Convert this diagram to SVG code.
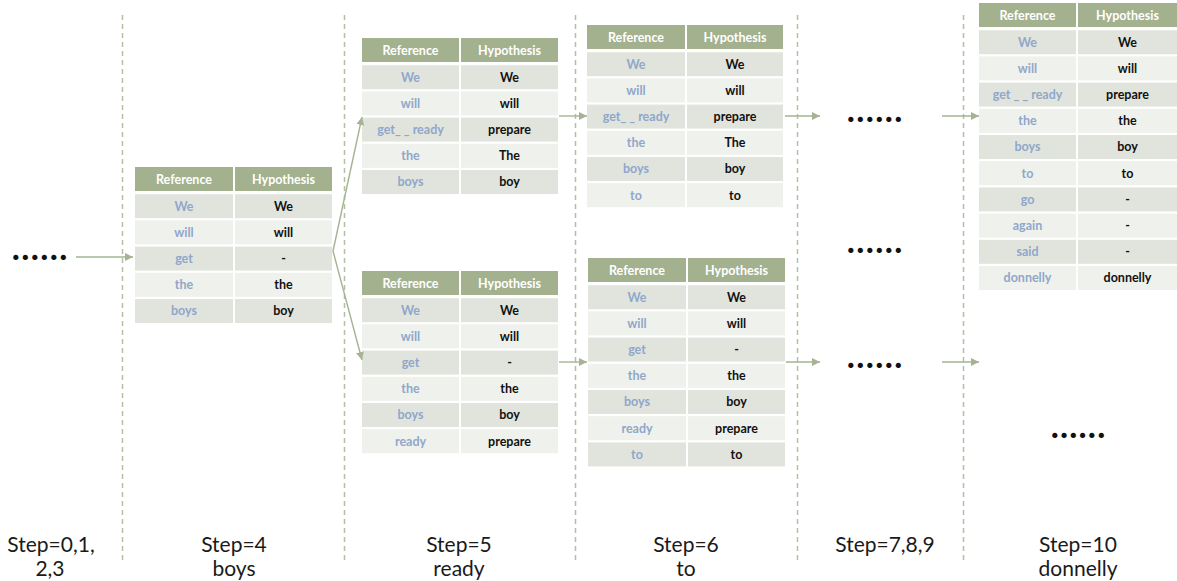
<svg xmlns="http://www.w3.org/2000/svg" width="1177" height="581" viewBox="0 0 1177 581">
<defs>
<marker id="ah" viewBox="0 0 8 8" markerWidth="8" markerHeight="8" markerUnits="userSpaceOnUse" refX="8" refY="4" orient="auto">
<path d="M0,0 L8,4 L0,8 z" fill="#a5b394"/>
</marker>
<style>
.hd{fill:#a3b18e}
.dk{fill:#e1e4dc}
.lt{fill:#eff1ec}
.ht{font-family:Lato,"Liberation Sans",sans-serif;font-weight:bold;font-size:12.5px;fill:#ffffff;text-anchor:middle}
.rt{font-family:Lato,"Liberation Sans",sans-serif;font-weight:bold;font-size:12.5px;fill:#8fa7cb;text-anchor:middle}
.yt{font-family:Lato,"Liberation Sans",sans-serif;font-weight:bold;font-size:12.5px;fill:#111111;text-anchor:middle}
.st{font-family:Lato,"Liberation Sans",sans-serif;font-size:21px;fill:#1a1a1a;text-anchor:middle}
.dots{font-family:Lato,"Liberation Sans",sans-serif;font-weight:900;font-size:32px;fill:#111111}
.sep{stroke:#b3c0a3;stroke-width:1.5;stroke-dasharray:5 4;fill:none}
.con{stroke:#a5b394;stroke-width:1.4;fill:none;marker-end:url(#ah)}
</style>
</defs>
<rect width="1177" height="581" fill="#ffffff"/>

<g id="separators">
<line class="sep" x1="122.5" y1="15" x2="122.5" y2="560"/>
<line class="sep" x1="344.5" y1="15" x2="344.5" y2="560"/>
<line class="sep" x1="575.5" y1="15" x2="575.5" y2="560"/>
<line class="sep" x1="797.5" y1="15" x2="797.5" y2="560"/>
<line class="sep" x1="963.5" y1="15" x2="963.5" y2="560"/>
</g>

<g id="t1" transform="translate(135,180)">
<rect class="hd" x="0" y="-13" width="98" height="24"/><rect class="hd" x="100" y="-13" width="97" height="24"/>
<text class="ht" x="49" y="3.5">Reference</text><text class="ht" x="148.5" y="3.5">Hypothesis</text>
<rect class="dk" x="0" y="14.2" width="98" height="24"/><rect class="dk" x="100" y="14.2" width="97" height="24"/>
<text class="rt" x="49" y="30.5">We</text><text class="yt" x="148.5" y="30.5">We</text>
<rect class="lt" x="0" y="40.4" width="98" height="24"/><rect class="lt" x="100" y="40.4" width="97" height="24"/>
<text class="rt" x="49" y="56.7">will</text><text class="yt" x="148.5" y="56.7">will</text>
<rect class="dk" x="0" y="66.6" width="98" height="24"/><rect class="dk" x="100" y="66.6" width="97" height="24"/>
<text class="rt" x="49" y="82.9">get</text><text class="yt" x="148.5" y="82.9">-</text>
<rect class="lt" x="0" y="92.8" width="98" height="24"/><rect class="lt" x="100" y="92.8" width="97" height="24"/>
<text class="rt" x="49" y="109.1">the</text><text class="yt" x="148.5" y="109.1">the</text>
<rect class="dk" x="0" y="119" width="98" height="24"/><rect class="dk" x="100" y="119" width="97" height="24"/>
<text class="rt" x="49" y="135.3">boys</text><text class="yt" x="148.5" y="135.3">boy</text>
</g>

<g id="t2" transform="translate(362,51)">
<rect class="hd" x="0" y="-13" width="97" height="24"/><rect class="hd" x="99" y="-13" width="97" height="24"/>
<text class="ht" x="48.5" y="3.5">Reference</text><text class="ht" x="147.5" y="3.5">Hypothesis</text>
<rect class="dk" x="0" y="14.2" width="97" height="24"/><rect class="dk" x="99" y="14.2" width="97" height="24"/>
<text class="rt" x="48.5" y="30.5">We</text><text class="yt" x="147.5" y="30.5">We</text>
<rect class="lt" x="0" y="40.4" width="97" height="24"/><rect class="lt" x="99" y="40.4" width="97" height="24"/>
<text class="rt" x="48.5" y="56.7">will</text><text class="yt" x="147.5" y="56.7">will</text>
<rect class="dk" x="0" y="66.6" width="97" height="24"/><rect class="dk" x="99" y="66.6" width="97" height="24"/>
<text class="rt" x="48.5" y="82.9">get_ _ ready</text><text class="yt" x="147.5" y="82.9">prepare</text>
<rect class="lt" x="0" y="92.8" width="97" height="24"/><rect class="lt" x="99" y="92.8" width="97" height="24"/>
<text class="rt" x="48.5" y="109.1">the</text><text class="yt" x="147.5" y="109.1">The</text>
<rect class="dk" x="0" y="119" width="97" height="24"/><rect class="dk" x="99" y="119" width="97" height="24"/>
<text class="rt" x="48.5" y="135.3">boys</text><text class="yt" x="147.5" y="135.3">boy</text>
</g>

<g id="t3" transform="translate(362,284)">
<rect class="hd" x="0" y="-13" width="97" height="24"/><rect class="hd" x="99" y="-13" width="97" height="24"/>
<text class="ht" x="48.5" y="3.5">Reference</text><text class="ht" x="147.5" y="3.5">Hypothesis</text>
<rect class="dk" x="0" y="14.2" width="97" height="24"/><rect class="dk" x="99" y="14.2" width="97" height="24"/>
<text class="rt" x="48.5" y="30.5">We</text><text class="yt" x="147.5" y="30.5">We</text>
<rect class="lt" x="0" y="40.4" width="97" height="24"/><rect class="lt" x="99" y="40.4" width="97" height="24"/>
<text class="rt" x="48.5" y="56.7">will</text><text class="yt" x="147.5" y="56.7">will</text>
<rect class="dk" x="0" y="66.6" width="97" height="24"/><rect class="dk" x="99" y="66.6" width="97" height="24"/>
<text class="rt" x="48.5" y="82.9">get</text><text class="yt" x="147.5" y="82.9">-</text>
<rect class="lt" x="0" y="92.8" width="97" height="24"/><rect class="lt" x="99" y="92.8" width="97" height="24"/>
<text class="rt" x="48.5" y="109.1">the</text><text class="yt" x="147.5" y="109.1">the</text>
<rect class="dk" x="0" y="119" width="97" height="24"/><rect class="dk" x="99" y="119" width="97" height="24"/>
<text class="rt" x="48.5" y="135.3">boys</text><text class="yt" x="147.5" y="135.3">boy</text>
<rect class="lt" x="0" y="145.2" width="97" height="24"/><rect class="lt" x="99" y="145.2" width="97" height="24"/>
<text class="rt" x="48.5" y="161.5">ready</text><text class="yt" x="147.5" y="161.5">prepare</text>
</g>

<g id="t4" transform="translate(587,38)">
<rect class="hd" x="0" y="-13" width="98" height="24"/><rect class="hd" x="100" y="-13" width="96" height="24"/>
<text class="ht" x="49" y="3.5">Reference</text><text class="ht" x="148" y="3.5">Hypothesis</text>
<rect class="dk" x="0" y="14.2" width="98" height="24"/><rect class="dk" x="100" y="14.2" width="96" height="24"/>
<text class="rt" x="49" y="30.5">We</text><text class="yt" x="148" y="30.5">We</text>
<rect class="lt" x="0" y="40.4" width="98" height="24"/><rect class="lt" x="100" y="40.4" width="96" height="24"/>
<text class="rt" x="49" y="56.7">will</text><text class="yt" x="148" y="56.7">will</text>
<rect class="dk" x="0" y="66.6" width="98" height="24"/><rect class="dk" x="100" y="66.6" width="96" height="24"/>
<text class="rt" x="49" y="82.9">get_ _ ready</text><text class="yt" x="148" y="82.9">prepare</text>
<rect class="lt" x="0" y="92.8" width="98" height="24"/><rect class="lt" x="100" y="92.8" width="96" height="24"/>
<text class="rt" x="49" y="109.1">the</text><text class="yt" x="148" y="109.1">The</text>
<rect class="dk" x="0" y="119" width="98" height="24"/><rect class="dk" x="100" y="119" width="96" height="24"/>
<text class="rt" x="49" y="135.3">boys</text><text class="yt" x="148" y="135.3">boy</text>
<rect class="lt" x="0" y="145.2" width="98" height="24"/><rect class="lt" x="100" y="145.2" width="96" height="24"/>
<text class="rt" x="49" y="161.5">to</text><text class="yt" x="148" y="161.5">to</text>
</g>

<g id="t5" transform="translate(588,271)">
<rect class="hd" x="0" y="-13" width="98" height="24"/><rect class="hd" x="100" y="-13" width="97" height="24"/>
<text class="ht" x="49" y="3.5">Reference</text><text class="ht" x="148.5" y="3.5">Hypothesis</text>
<rect class="dk" x="0" y="14.2" width="98" height="24"/><rect class="dk" x="100" y="14.2" width="97" height="24"/>
<text class="rt" x="49" y="30.5">We</text><text class="yt" x="148.5" y="30.5">We</text>
<rect class="lt" x="0" y="40.4" width="98" height="24"/><rect class="lt" x="100" y="40.4" width="97" height="24"/>
<text class="rt" x="49" y="56.7">will</text><text class="yt" x="148.5" y="56.7">will</text>
<rect class="dk" x="0" y="66.6" width="98" height="24"/><rect class="dk" x="100" y="66.6" width="97" height="24"/>
<text class="rt" x="49" y="82.9">get</text><text class="yt" x="148.5" y="82.9">-</text>
<rect class="lt" x="0" y="92.8" width="98" height="24"/><rect class="lt" x="100" y="92.8" width="97" height="24"/>
<text class="rt" x="49" y="109.1">the</text><text class="yt" x="148.5" y="109.1">the</text>
<rect class="dk" x="0" y="119" width="98" height="24"/><rect class="dk" x="100" y="119" width="97" height="24"/>
<text class="rt" x="49" y="135.3">boys</text><text class="yt" x="148.5" y="135.3">boy</text>
<rect class="lt" x="0" y="145.2" width="98" height="24"/><rect class="lt" x="100" y="145.2" width="97" height="24"/>
<text class="rt" x="49" y="161.5">ready</text><text class="yt" x="148.5" y="161.5">prepare</text>
<rect class="dk" x="0" y="171.4" width="98" height="24"/><rect class="dk" x="100" y="171.4" width="97" height="24"/>
<text class="rt" x="49" y="187.7">to</text><text class="yt" x="148.5" y="187.7">to</text>
</g>

<g id="t6" transform="translate(979,16)">
<rect class="hd" x="0" y="-13" width="97" height="24"/><rect class="hd" x="99" y="-13" width="99" height="24"/>
<text class="ht" x="48.5" y="3.5">Reference</text><text class="ht" x="148.5" y="3.5">Hypothesis</text>
<rect class="dk" x="0" y="14.2" width="97" height="24"/><rect class="dk" x="99" y="14.2" width="99" height="24"/>
<text class="rt" x="48.5" y="30.5">We</text><text class="yt" x="148.5" y="30.5">We</text>
<rect class="lt" x="0" y="40.4" width="97" height="24"/><rect class="lt" x="99" y="40.4" width="99" height="24"/>
<text class="rt" x="48.5" y="56.7">will</text><text class="yt" x="148.5" y="56.7">will</text>
<rect class="dk" x="0" y="66.6" width="97" height="24"/><rect class="dk" x="99" y="66.6" width="99" height="24"/>
<text class="rt" x="48.5" y="82.9">get _ _ ready</text><text class="yt" x="148.5" y="82.9">prepare</text>
<rect class="lt" x="0" y="92.8" width="97" height="24"/><rect class="lt" x="99" y="92.8" width="99" height="24"/>
<text class="rt" x="48.5" y="109.1">the</text><text class="yt" x="148.5" y="109.1">the</text>
<rect class="dk" x="0" y="119" width="97" height="24"/><rect class="dk" x="99" y="119" width="99" height="24"/>
<text class="rt" x="48.5" y="135.3">boys</text><text class="yt" x="148.5" y="135.3">boy</text>
<rect class="lt" x="0" y="145.2" width="97" height="24"/><rect class="lt" x="99" y="145.2" width="99" height="24"/>
<text class="rt" x="48.5" y="161.5">to</text><text class="yt" x="148.5" y="161.5">to</text>
<rect class="dk" x="0" y="171.4" width="97" height="24"/><rect class="dk" x="99" y="171.4" width="99" height="24"/>
<text class="rt" x="48.5" y="187.7">go</text><text class="yt" x="148.5" y="187.7">-</text>
<rect class="lt" x="0" y="197.6" width="97" height="24"/><rect class="lt" x="99" y="197.6" width="99" height="24"/>
<text class="rt" x="48.5" y="213.9">again</text><text class="yt" x="148.5" y="213.9">-</text>
<rect class="dk" x="0" y="223.8" width="97" height="24"/><rect class="dk" x="99" y="223.8" width="99" height="24"/>
<text class="rt" x="48.5" y="240.1">said</text><text class="yt" x="148.5" y="240.1">-</text>
<rect class="lt" x="0" y="250" width="97" height="24"/><rect class="lt" x="99" y="250" width="99" height="24"/>
<text class="rt" x="48.5" y="266.3">donnelly</text><text class="yt" x="148.5" y="266.3">donnelly</text>
</g>

<g id="ellipses">
<text class="dots" x="12" y="260" textLength="55" lengthAdjust="spacing">......</text>
<text class="dots" x="847" y="122" textLength="55" lengthAdjust="spacing">......</text>
<text class="dots" x="847" y="253" textLength="55" lengthAdjust="spacing">......</text>
<text class="dots" x="847" y="368" textLength="55" lengthAdjust="spacing">......</text>
<text class="dots" x="1051" y="438" textLength="54" lengthAdjust="spacing">......</text>
</g>

<g id="connectors">
<path class="con" d="M76,257 L133,257"/>
<path class="con" d="M333,251 L362,117"/>
<path class="con" d="M333,251 L362,360"/>
<path class="con" d="M559,116 L587,116"/>
<path class="con" d="M559,362 L587,362"/>
<path class="con" d="M785,116 L820,116"/>
<path class="con" d="M786,362 L820,362"/>
<path class="con" d="M942,116 L979,116"/>
<path class="con" d="M942,362 L979,362"/>
</g>

<g id="labels">
<text class="st" x="51" y="552">Step=0,1,</text>
<text class="st" x="50" y="576">2,3</text>
<text class="st" x="234" y="552">Step=4</text>
<text class="st" x="234" y="576">boys</text>
<text class="st" x="459" y="552">Step=5</text>
<text class="st" x="459" y="576">ready</text>
<text class="st" x="686" y="552">Step=6</text>
<text class="st" x="686" y="576">to</text>
<text class="st" x="885" y="552">Step=7,8,9</text>
<text class="st" x="1078" y="552">Step=10</text>
<text class="st" x="1078" y="576">donnelly</text>
</g>
</svg>
